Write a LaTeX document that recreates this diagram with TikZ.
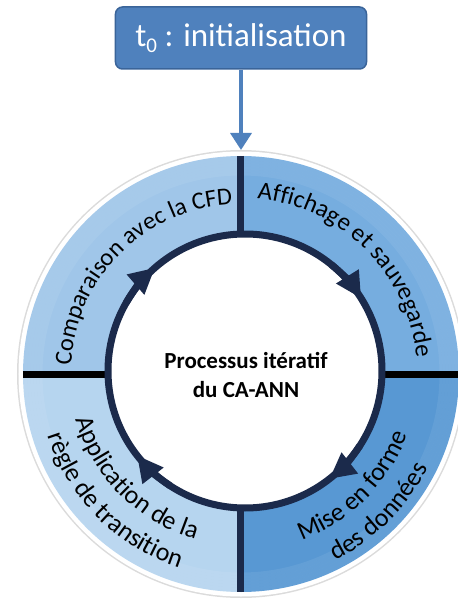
\documentclass[tikz,border=0pt]{standalone}
\usepackage{fontspec}
\setmainfont{Carlito}
\usetikzlibrary{arrows.meta,decorations.text}
\definecolor{qTL}{HTML}{A0C6E9}
\definecolor{qTR}{HTML}{76ADDF}
\definecolor{qBR}{HTML}{5898D3}
\definecolor{qBL}{HTML}{B6D5EF}
\definecolor{navy}{HTML}{1B2A4B}
\definecolor{boxblue}{HTML}{4F81BD}
\definecolor{boxborder}{HTML}{3A6499}
\begin{document}
\begin{tikzpicture}[x=1pt,y=1pt,
  ringtext/.style={decorate, decoration={text along path, text align=center, text={#1}}},
  divnavy/.style={draw=navy, line width=7},
  divblack/.style={draw=black, line width=7},
  cyclearrow/.style={draw=navy, line width=7, -{Triangle[length=26pt,width=25pt]}},
]
\useasboundingbox (-241,-229) rectangle (217,374);
\clip (-241,-229) rectangle (217,374);
% ring border and shadow
\fill[black!14] (0,0) circle[radius=224];
\fill[white] (0,0) circle[radius=222.5];
% quadrants
\fill[qTL] (0,0) -- (180:218) arc[start angle=180,end angle=90,radius=218] -- cycle;
\fill[qTR] (0,0) -- (90:218) arc[start angle=90,end angle=0,radius=218] -- cycle;
\fill[qBR] (0,0) -- (0:218) arc[start angle=0,end angle=-90,radius=218] -- cycle;
\fill[qBL] (0,0) -- (-90:218) arc[start angle=-90,end angle=-180,radius=218] -- cycle;
% soft light toward the outer edge
\foreach \r in {200,203,...,218} {\draw[white, opacity=0.07, line width=3] (0,0) circle[radius=\r];}
% dividers
\coordinate (ringN) at (90:218);
\coordinate (ringS) at (-90:218);
\coordinate (ringW) at (180:218);
\coordinate (ringE) at (0:218);
\draw[divnavy] (ringN) -- (ringS);
\draw[divblack] (ringW) -- (ringE);
% inner circle
\node[circle, fill=white, draw=navy, line width=7, minimum size=274, inner sep=0] (inner) at (4,3) {};
% cycle arrows
\draw[cyclearrow, shift={(inner.center)}] (150:137) arc[start angle=150,end angle=131,radius=137];
\draw[cyclearrow, shift={(inner.center)}] (51:137) arc[start angle=51,end angle=32,radius=137];
\draw[cyclearrow, shift={(inner.center)}] (-33:137) arc[start angle=-33,end angle=-52,radius=137];
\draw[cyclearrow, shift={(inner.center)}] (-123:137) arc[start angle=-123,end angle=-142,radius=137];
% centre text
\node[font=\bfseries\fontsize{23}{29}\selectfont, align=center] (ctext) at (5,-1) {Processus itératif\\du CA-ANN};
% ring texts
\path[ringtext={|\fontsize{24.5}{24.5}\selectfont|Comparaison avec la CFD}] (180:170) arc[start angle=180,end angle=90,radius=170];
\path[ringtext={|\fontsize{25}{25}\selectfont|Affichage et sauvegarde}] (90:176) arc[start angle=90,end angle=0,radius=176];
\path[ringtext={|\fontsize{26}{26}\selectfont|Mise en forme}] (-90:177) arc[start angle=-90,end angle=0,radius=177];
\path[ringtext={|\fontsize{26}{26}\selectfont|des données}] (-90:209) arc[start angle=-90,end angle=0,radius=209];
\path[ringtext={|\fontsize{26}{26}\selectfont|Application de la}] (180:171) arc[start angle=180,end angle=270,radius=171];
\path[ringtext={|\fontsize{26}{26}\selectfont|règle de transition}] (180:203) arc[start angle=180,end angle=270,radius=203];
% title
\node[draw=boxborder, fill=boxblue, line width=1.5, rounded corners=7, minimum width=251, minimum height=62, inner sep=0, text=white, font=\fontsize{33}{33}\selectfont] (init) at (0,336) {t\raisebox{-0.35ex}{\fontsize{21}{21}\selectfont 0} : initialisation};
\coordinate (ringtop) at (0,224);
\draw[boxblue, line width=3.5, -{Triangle[length=17pt,width=21pt]}] (init.south) -- (ringtop);
\end{tikzpicture}
\end{document}
